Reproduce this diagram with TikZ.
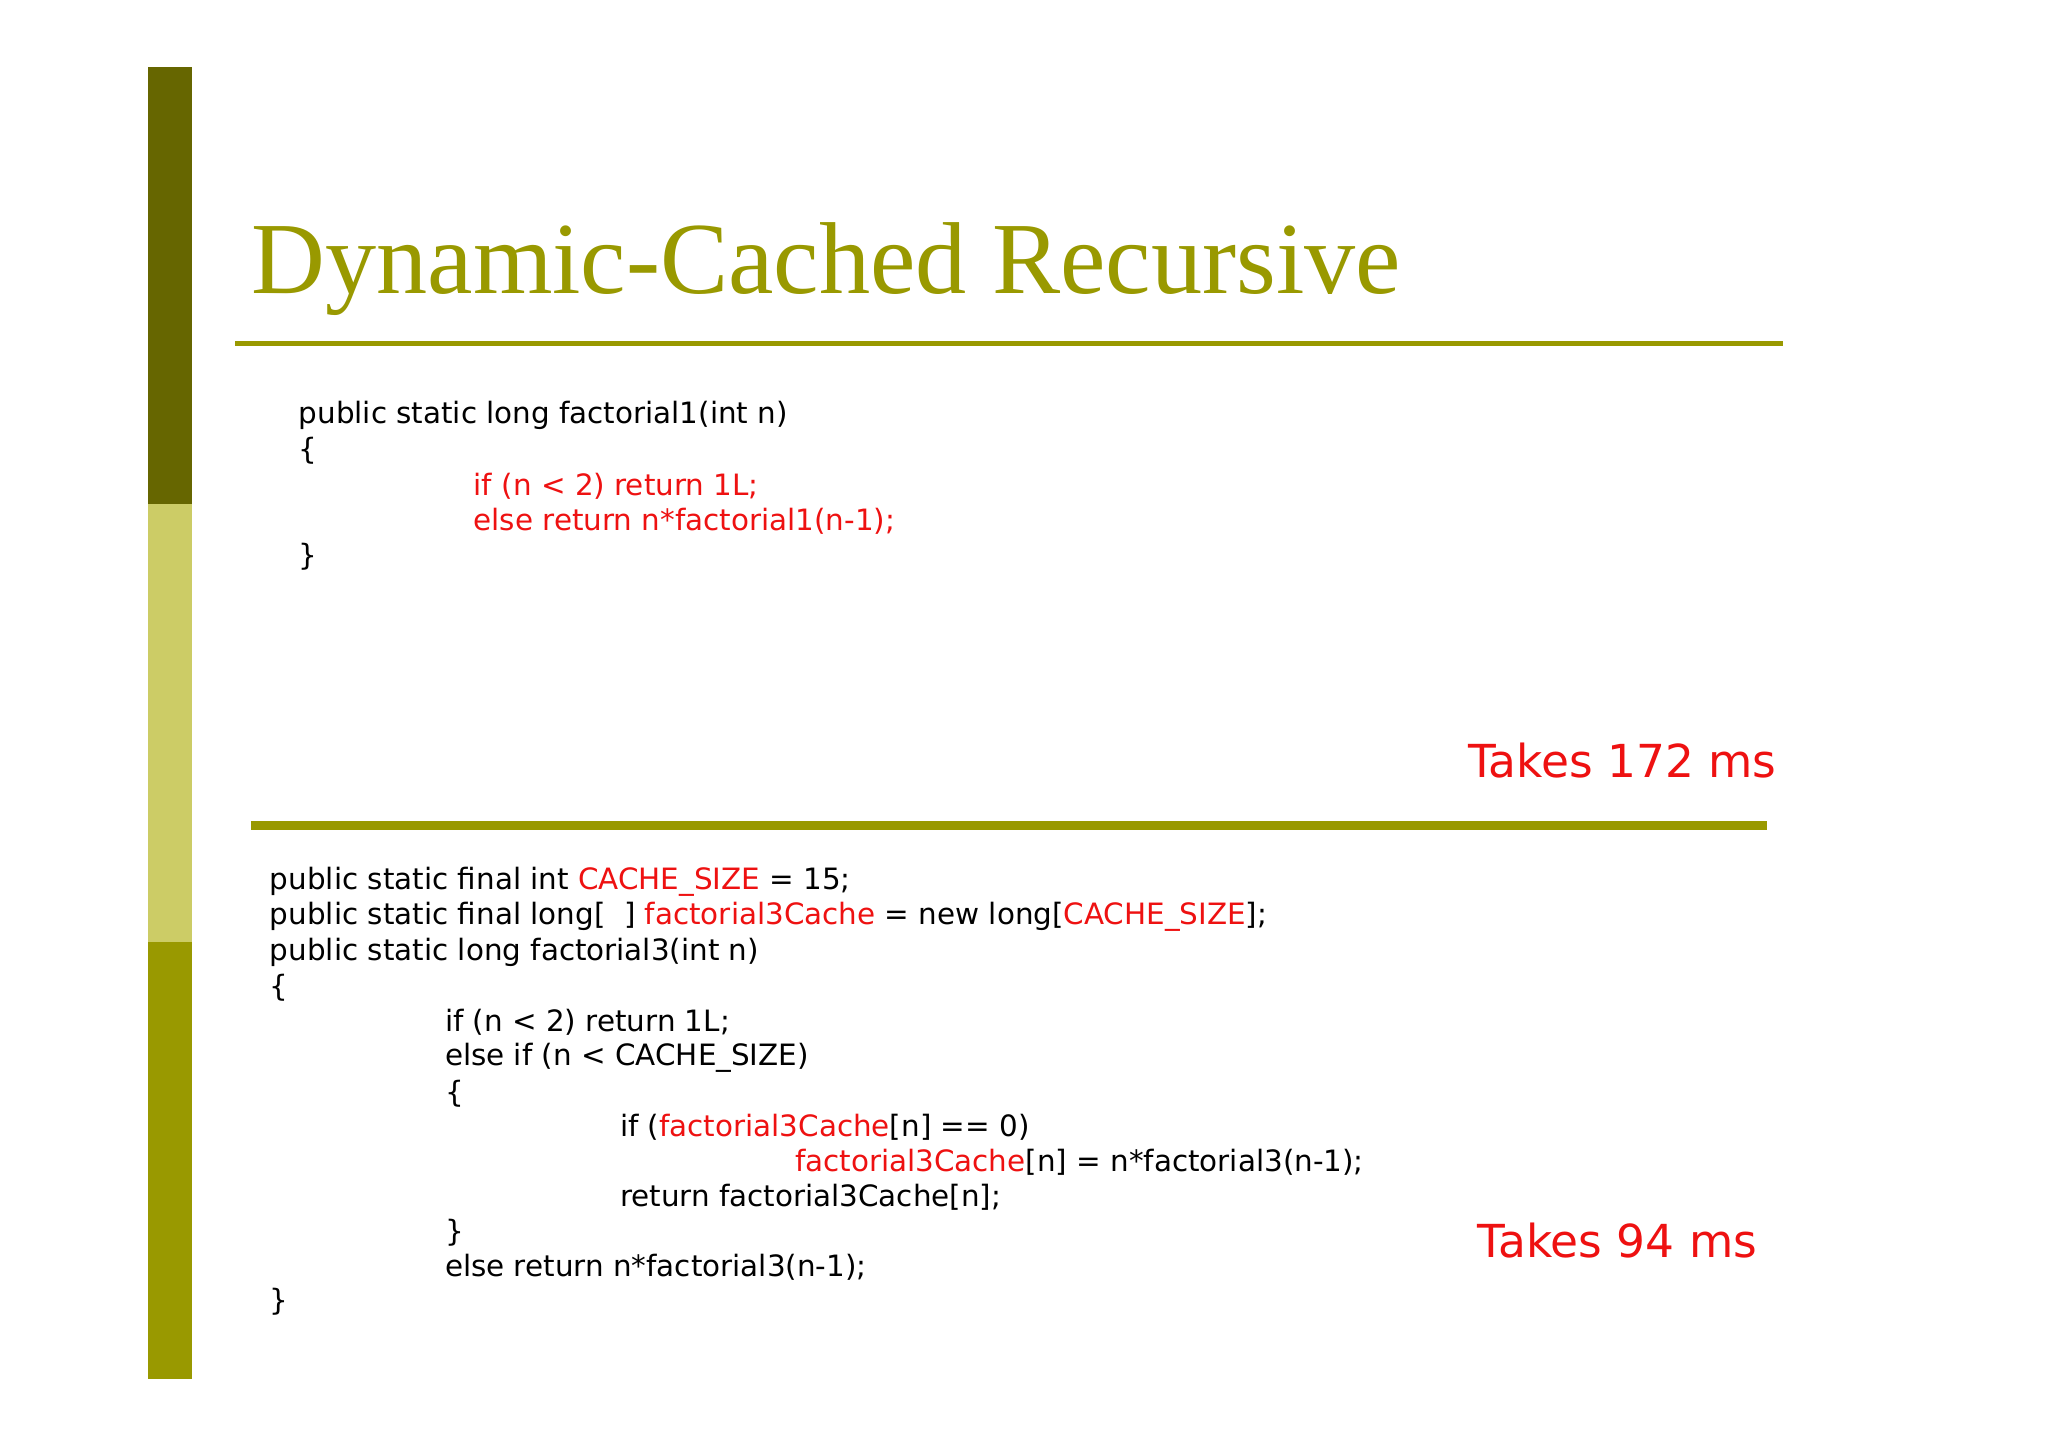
\documentclass[tikz,border=0pt]{standalone}
\usepackage{fontspec}
\setmainfont{DejaVu Sans}
\newfontfamily\titlefont{Liberation Serif}
\definecolor{olive1}{HTML}{666600}
\definecolor{olive2}{HTML}{CCCC66}
\definecolor{olive3}{HTML}{999900}
\definecolor{cred}{HTML}{EE1111}
\begin{document}
\begin{tikzpicture}[x=0.01cm,y=-0.01cm,
  code/.style={anchor=west,inner sep=0pt,font=\fontsize{6.4pt}{7pt}\selectfont},
  rc/.style={text=cred},
  takes/.style={anchor=east,inner sep=0pt,text=cred,font=\fontsize{9.9pt}{10pt}\selectfont}]
\useasboundingbox (0,0) rectangle (1568,1108);
\fill[white] (0,0) rectangle (1568,1108);
\fill[olive1] (113,51) rectangle (147,386);
\fill[olive2] (113,386) rectangle (147,721);
\fill[olive3] (113,721) rectangle (147,1056);
\node[anchor=west,inner sep=0pt,text=olive3,font=\titlefont\fontsize{22.25pt}{24pt}\selectfont] (title) at (192,206) {Dynamic-Cached Recursive};
\coordinate (l1a) at (180,263); \coordinate (l1b) at (1365,263);
\draw[olive3,line width=1.2pt] (l1a) -- (l1b);
\coordinate (l2a) at (192,632); \coordinate (l2b) at (1353,632);
\draw[olive3,line width=2pt] (l2a) -- (l2b);
% block 1
\node[code] (a1) at (228,318) {public static long factorial1(int n)};
\node[code] (a2) at (228,345) {\{};
\node[code,rc] (a3) at (362,372) {if (n < 2) return 1L;};
\node[code,rc] (a4) at (362,399) {else return n*factorial1(n-1);};
\node[code] (a5) at (228,426) {\}};
\node[takes] (t1) at (1361,582) {Takes 172 ms};
% block 2
\node[code] (b1) at (206,675) {public static final int \textcolor{cred}{CACHE\_SIZE} = 15;};
\node[code] (b2) at (206,702) {public static final long[\ \ ] \textcolor{cred}{factorial3Cache} = new long[\textcolor{cred}{CACHE\_SIZE}];};
\node[code] (b3) at (206,729) {public static long factorial3(int n)};
\node[code] (b4) at (206,756) {\{};
\node[code] (b5) at (340,783) {if (n < 2) return 1L;};
\node[code] (b6) at (340,810) {else if (n < CACHE\_SIZE)};
\node[code] (b7) at (340,837) {\{};
\node[code] (b8) at (474,863) {if (\textcolor{cred}{factorial3Cache}[n] == 0)};
\node[code] (b9) at (608,890) {\textcolor{cred}{factorial3Cache}[n] = n*factorial3(n-1);};
\node[code] (b10) at (474,917) {return factorial3Cache[n];};
\node[code] (b11) at (340,944) {\}};
\node[code] (b12) at (340,970) {else return n*factorial3(n-1);};
\node[code] (b13) at (206,997) {\}};
\node[takes] (t2) at (1346,950) {Takes 94 ms};
\end{tikzpicture}
\end{document}
